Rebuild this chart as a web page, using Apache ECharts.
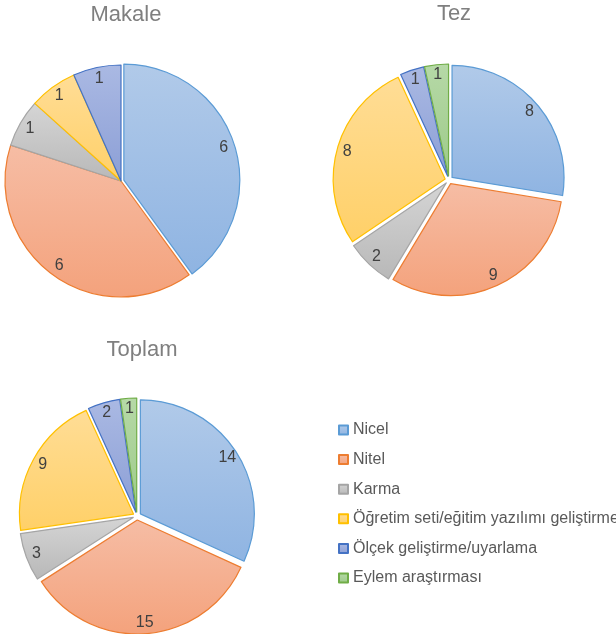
<!DOCTYPE html>
<html>
<head>
    <meta charset="utf-8">
    <script src="https://cdn.jsdelivr.net/npm/echarts@6/dist/echarts.min.js"></script>
    <style>
        html, body { margin: 0; padding: 0; background: #fff; }
        #main { width: 616px; height: 634px; }
    </style>
</head>
<body>
    <div id="main"></div>
    <script>
        // data
        var categories = ['Nicel', 'Nitel', 'Karma', 'Öğretim seti/eğitim yazılımı geliştirme', 'Ölçek geliştirme/uyarlama', 'Eylem araştırması'];
        var makale = [6, 6, 1, 1, 1, 0];
        var tez = [8, 9, 2, 8, 1, 1];
        var toplam = [14, 15, 3, 9, 2, 1];

        // fill top, fill bottom, border
        var palette = [
            ['#b1cae9', '#8fb4e2', '#5b9bd5'],
            ['#f6bda5', '#f4a27c', '#ed7d31'],
            ['#d5d5d5', '#b8b8b8', '#a5a5a5'],
            ['#ffdd96', '#ffd068', '#ffc000'],
            ['#aab9e3', '#8c9fd6', '#4472c4'],
            ['#b6d9a7', '#9dca89', '#70ad47']
        ];

        var pies = [
            { title: 'Makale', values: makale, center: [121, 181], r: 116, offset: 3, exploded: [0] },
            { title: 'Tez', values: tez, center: [449, 180], r: 112, offset: 4, exploded: [0, 1, 2, 3, 4, 5] },
            { title: 'Toplam', values: toplam, center: [137, 516], r: 114, offset: 4, exploded: [0, 1, 2, 3, 4, 5] }
        ];

        var font = '"Liberation Sans", Arial, sans-serif';

        function buildData(p, overlay) {
            var out = [];
            for (var i = 0; i < categories.length; i++) {
                if (!p.values[i]) continue;
                var c = palette[i];
                out.push({
                    name: categories[i],
                    value: p.values[i],
                    selected: p.exploded.indexOf(i) >= 0,
                    itemStyle: overlay ? { color: 'rgba(0,0,0,0)', borderWidth: 0 } : {
                        color: new echarts.graphic.LinearGradient(0, 0, 0, 1, [
                            { offset: 0, color: c[0] },
                            { offset: 1, color: c[1] }
                        ]),
                        borderColor: c[2],
                        borderWidth: 1.2
                    }
                });
            }
            return out;
        }

        var titles = [];
        var mainSeries = [];
        var labelSeries = [];
        pies.forEach(function (p) {
            titles.push({
                text: p.title,
                left: p.center[0],
                top: p.center[1] - 182,
                textAlign: 'center',
                textStyle: { fontFamily: font, fontSize: 22, fontWeight: 'normal', color: '#7f7f7f' }
            });
            mainSeries.push({
                type: 'pie',
                center: p.center,
                radius: [0, p.r],
                startAngle: 90,
                clockwise: true,
                selectedMode: 'multiple',
                selectedOffset: p.offset,
                label: { show: false },
                labelLine: { show: false },
                emphasis: { scale: false },
                data: buildData(p, false)
            });
            // transparent ring, only to place labels close to the rim
            labelSeries.push({
                type: 'pie',
                silent: true,
                center: p.center,
                radius: [p.r * 0.76, p.r],
                startAngle: 90,
                clockwise: true,
                selectedMode: 'multiple',
                selectedOffset: p.offset,
                label: {
                    show: true,
                    position: 'inside',
                    formatter: '{c}',
                    fontFamily: font,
                    fontSize: 16,
                    color: '#404040'
                },
                labelLine: { show: false },
                data: buildData(p, true)
            });
        });

        var chart = echarts.init(document.getElementById('main'));
        chart.setOption({
            animation: false,
            title: titles,
            legend: {
                orient: 'vertical',
                left: 333,
                top: 417,
                itemWidth: 9,
                itemHeight: 9,
                itemGap: 13.6,
                icon: 'rect',
                selectedMode: false,
                data: categories,
                textStyle: { fontFamily: font, fontSize: 16, color: '#595959' }
            },
            series: mainSeries.concat(labelSeries)
        });

        window.onresize = function () {
            chart.resize();
        };
    </script>
</body>
</html>
